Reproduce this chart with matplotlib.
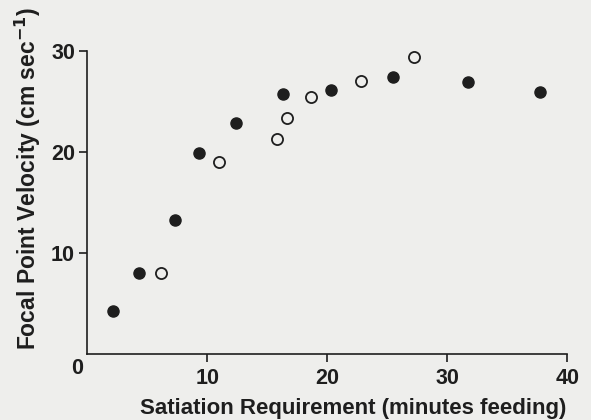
import matplotlib
matplotlib.use("Agg")
import matplotlib.pyplot as plt

# feeding time (min) vs focal point velocity (cm/s)
filled_x = [2.1, 4.3, 7.3, 9.3, 12.4, 16.3, 20.3, 25.5, 31.7, 37.7]
filled_y = [4.3, 8.0, 13.3, 19.9, 22.9, 25.7, 26.1, 27.4, 26.9, 25.9]

open_x = [6.1, 11.0, 15.8, 16.6, 18.6, 22.8, 27.2]
open_y = [8.0, 19.0, 21.3, 23.4, 25.4, 27.0, 29.4]

x_ticks = [10, 20, 30, 40]
y_ticks = [10, 20, 30]

BG = '#eeeeec'
INK = '#1e1e1e'

plt.rcParams['font.family'] = ['Liberation Sans', 'DejaVu Sans']
plt.rcParams['font.weight'] = 'bold'
plt.rcParams['axes.labelweight'] = 'bold'
plt.rcParams['mathtext.default'] = 'bf'

fig = plt.figure(figsize=(5.91, 4.20), dpi=100, facecolor=BG)
ax = fig.add_axes([0.148, 0.157, 0.812, 0.722])
ax.set_facecolor(BG)

ax.plot(filled_x, filled_y, 'o', color=INK, markersize=8, linestyle='None')
ax.plot(open_x, open_y, 'o', markerfacecolor=BG, markeredgecolor=INK,
        markeredgewidth=1.3, markersize=8, linestyle='None')

ax.set_xlim(0, 40)
ax.set_ylim(0, 30)
ax.spines['top'].set_visible(False)
ax.spines['right'].set_visible(False)
for s in ('left', 'bottom'):
    ax.spines[s].set_color(INK)
    ax.spines[s].set_linewidth(1.2)

ax.set_xticks(x_ticks)
ax.set_yticks(y_ticks)
ax.tick_params(direction='out', length=6, width=1.2, color=INK,
               labelsize=15.5, labelcolor=INK)
ax.tick_params(axis='x', pad=4)
ax.tick_params(axis='y', pad=3)

# single shared zero at the origin
ax.text(-0.01, -0.012, '0', transform=ax.transAxes, ha='right', va='top',
        fontsize=15.5, color=INK)

ax.set_xlabel('Satiation Requirement (minutes feeding)', fontsize=16,
              color=INK, va='center')
ax.xaxis.set_label_coords(0.553, -0.178)
ax.set_ylabel('Focal Point Velocity (cm sec$^{-1}$)', fontsize=16.5,
              color=INK, va='center')
ax.yaxis.set_label_coords(-0.125, 0.58)

fig.savefig('out.png', dpi=100, facecolor=BG)
